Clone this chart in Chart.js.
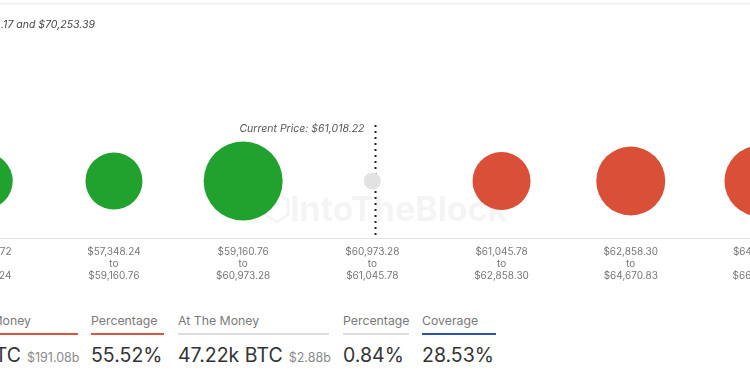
<!DOCTYPE html>
<html>
<head>
<meta charset="utf-8">
<script src="https://cdn.jsdelivr.net/npm/chart.js@4"></script>
<style>
  html, body { margin: 0; padding: 0; background: #fff; }
  body { width: 750px; height: 375px; overflow: hidden; position: relative; font-family: Inter, "Noto Sans", sans-serif; }
  #wrap { position: absolute; left: 0; top: 0; width: 750px; height: 300px; }
  .hdr { position: absolute; top: 313px; font-size: 12.3px; line-height: 16px; color: #7a7a7a; white-space: nowrap; }
  .bar { position: absolute; top: 333px; height: 2px; }
  .val { position: absolute; top: 343px; display: flex; align-items: baseline; white-space: nowrap; color: #333; font-size: 19.5px; line-height: 24px; }
  .val small { font-size: 12.5px; color: #8a8a8a; margin-left: 6px; }
</style>
</head>
<body>
<div id="wrap"><canvas id="chart"></canvas></div>

<div class="hdr" style="right:719px;text-align:right">In The Money</div>
<div class="bar" style="left:0;width:78px;background:#d9553f"></div>
<div class="val" style="left:-100px"><span style="display:inline-block;width:121px;text-align:right">BTC</span><small>$191.08b</small></div>

<div class="hdr" style="left:91px">Percentage</div>
<div class="bar" style="left:91px;width:73px;background:#d9553f"></div>
<div class="val" style="left:91px">55.52%</div>

<div class="hdr" style="left:178px">At The Money</div>
<div class="bar" style="left:178px;width:151px;background:#dedede"></div>
<div class="val" style="left:178px"><span>47.22k BTC</span><small>$2.88b</small></div>

<div class="hdr" style="left:343px">Percentage</div>
<div class="bar" style="left:343px;width:66px;background:#dedede"></div>
<div class="val" style="left:343px">0.84%</div>

<div class="hdr" style="left:422px">Coverage</div>
<div class="bar" style="left:422px;width:74px;background:#2c4fb8"></div>
<div class="val" style="left:422px">28.53%</div>

<script>
// ---------- DATA ----------
const rangeFrom = ["$55,535.72", "$57,348.24", "$59,160.76", "$60,973.28", "$61,045.78", "$62,858.30", "$64,670.83"];
const rangeTo = ["$57,348.24", "$59,160.76", "$60,973.28", "$61,045.78", "$62,858.30", "$64,670.83", "$66,483.35"];
const bubbleRadius = [28, 28.5, 39.5, 8.5, 29, 34.5, 35.5];
const bubbleState = ["in", "in", "in", "at", "out", "out", "out"];
const currentPrice = "$61,018.22";
const currentPriceIndex = 3.02;
const subtitle = ".17 and $70,253.39";

// ---------- COLORS ----------
const COLORS = {
  in: "#21a12e",
  at: "#e2e2e2",
  out: "#d94f38",
  label: "#777",
  axis: "#e3e3e3",
  marker: "#222",
  note: "#555"
};

const AXIS_Y = 238;

const overlay = {
  id: "overlay",
  beforeDatasetsDraw(chart) {
    const ctx = chart.ctx;
    const x = chart.scales.x;
    ctx.save();
    // top border + subtitle
    ctx.fillStyle = "#f0f0f0";
    ctx.fillRect(0, 3, 750, 1.5);
    ctx.fillStyle = "#444";
    ctx.font = "italic 10.5px Inter, 'Noto Sans', sans-serif";
    ctx.textBaseline = "middle";
    ctx.textAlign = "left";
    ctx.fillText(subtitle, 1, 25);

    // watermark
    ctx.fillStyle = "rgba(0,0,0,0.045)";
    ctx.font = "bold 34px Inter, 'Noto Sans', sans-serif";
    ctx.fillText("IntoTheBlock", 290, 211);
    ctx.strokeStyle = "rgba(0,0,0,0.045)";
    ctx.lineWidth = 3;
    ctx.beginPath();
    ctx.moveTo(266, 200); ctx.lineTo(277, 193); ctx.lineTo(288, 200);
    ctx.lineTo(288, 215); ctx.lineTo(277, 222); ctx.lineTo(266, 215); ctx.closePath();
    ctx.stroke();

    // axis line
    ctx.fillStyle = COLORS.axis;
    ctx.fillRect(0, AXIS_Y, 750, 1);

    // range labels
    ctx.fillStyle = COLORS.label;
    ctx.font = "10px Inter, 'Noto Sans', sans-serif";
    ctx.textAlign = "center";
    rangeFrom.forEach((lbl, i) => {
      const px = x.getPixelForValue(i);
      ctx.fillText(lbl, px, 252);
      ctx.fillText("to", px, 264);
      ctx.fillText(rangeTo[i], px, 276);
    });

    // current price marker
    const cx = Math.round(x.getPixelForValue(currentPriceIndex)) + 0.5;
    ctx.strokeStyle = COLORS.marker;
    ctx.lineWidth = 2;
    ctx.setLineDash([2, 4]);
    ctx.beginPath();
    ctx.moveTo(cx, 125);
    ctx.lineTo(cx, AXIS_Y);
    ctx.stroke();
    ctx.setLineDash([]);
    ctx.fillStyle = COLORS.note;
    ctx.font = "italic 10.5px Inter, 'Noto Sans', sans-serif";
    ctx.textAlign = "right";
    ctx.fillText("Current Price: " + currentPrice, cx - 11, 129);
    ctx.restore();
  }
};

new Chart(document.getElementById("chart"), {
  type: "bubble",
  data: {
    datasets: [{
      data: bubbleRadius.map((r, i) => ({ x: i, y: 0, r: r })),
      backgroundColor: bubbleState.map(s => COLORS[s]),
      borderColor: bubbleState.map(s => COLORS[s]),
      borderWidth: 0,
      hoverRadius: 0,
      clip: false
    }]
  },
  options: {
    animation: false,
    responsive: true,
    maintainAspectRatio: false,
    events: [],
    layout: { padding: 0, autoPadding: false },
    scales: {
      x: { type: "linear", min: 0.118, max: 5.923, display: false },
      y: { min: -119, max: 181, display: false }
    },
    plugins: {
      legend: { display: false },
      tooltip: { enabled: false }
    }
  },
  plugins: [overlay]
});
</script>
</body>
</html>
